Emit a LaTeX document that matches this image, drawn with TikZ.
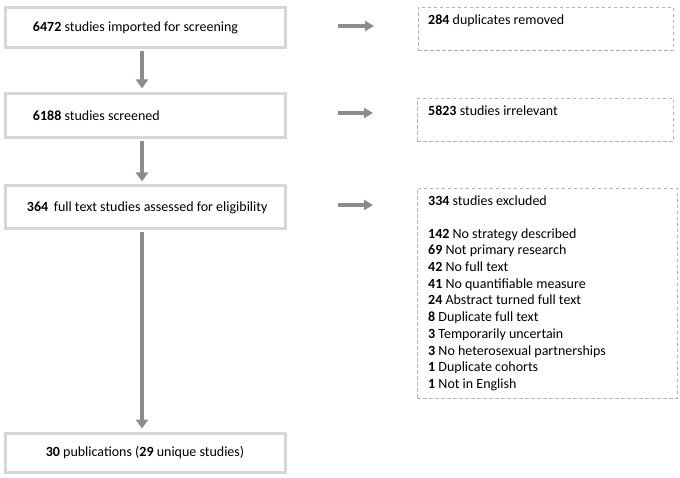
\documentclass[tikz,border=0pt]{standalone}
\usepackage{fontspec}
\setmainfont{Carlito}
\usetikzlibrary{arrows.meta}
\begin{document}
\begin{tikzpicture}[x=1pt,y=-1pt,
  mainbox/.style={draw=black!16, line width=3pt, fill=white, minimum width=280pt, inner sep=0pt, font=\fontsize{14}{16.7}\selectfont},
  sidebox/.style={draw=black!30, dash pattern=on 3.5pt off 2.5pt, line width=0.8pt, inner sep=0pt, anchor=north west},
  sidetext/.style={inner sep=0pt, anchor=base west, align=left, font=\fontsize{14}{16.7}\selectfont},
  arr/.style={draw=black!45, line width=3.5pt, -{Triangle[length=9pt,width=12pt]}},
  harr/.style={draw=black!45, line width=3.5pt, -{Triangle[length=9pt,width=10pt]}}
]
\useasboundingbox (0,0) rectangle (680,478);
% main boxes
\node[mainbox, minimum height=40pt] (b1) at (145,28) {\makebox[280pt][l]{\hspace{28pt}\textbf{6472} studies imported for screening}};
\node[mainbox, minimum height=44pt] (b2) at (145,116) {\makebox[280pt][l]{\hspace{28pt}\textbf{6188} studies screened}};
\node[mainbox, minimum height=43pt] (b3) at (145,207.5) {\makebox[280pt][l]{\hspace{22pt}\textbf{364} \,full text studies assessed for eligibility}};
\node[mainbox, minimum height=39pt] (b4) at (145,452.5) {\textbf{30} publications (\textbf{29} unique studies)};
% side boxes
\node[sidebox, minimum width=255pt, minimum height=43pt] (r1) at (418,7) {};
\node[sidebox, minimum width=256pt, minimum height=43pt] (r2) at (417,98) {};
\node[sidebox, minimum width=260pt, minimum height=210pt] (r3) at (417,188) {};
\node[sidetext] (t1) at (428,25) {\textbf{284} duplicates removed};
\node[sidetext] (t2) at (428,116) {\textbf{5823} studies irrelevant};
\node[sidetext, anchor=north west] (t3) at (428,196) {\textbf{334} studies excluded\\[15.5pt]
\textbf{142} No strategy described\\
\textbf{69} Not primary research\\
\textbf{42} No full text\\
\textbf{41} No quantifiable measure\\
\textbf{24} Abstract turned full text\\
\textbf{8} Duplicate full text\\
\textbf{3} Temporarily uncertain\\
\textbf{3} No heterosexual partnerships\\
\textbf{1} Duplicate cohorts\\
\textbf{1} Not in English};
% vertical arrows
\draw[arr, shorten <=1.5pt, shorten >=4pt] ([xshift=-3pt]b1.south) -- ([xshift=-3pt]b2.north);
\draw[arr, shorten <=1.5pt, shorten >=3pt] ([xshift=-3pt]b2.south) -- ([xshift=-3pt]b3.north);
\draw[arr, shorten <=1.5pt, shorten >=3pt] ([xshift=-3pt]b3.south) -- ([xshift=-3pt]b4.north);
% horizontal arrows
\draw[harr, shorten <=51pt, shorten >=44pt] ([yshift=2pt]b1.east) -- ([yshift=2pt]b1.east -| r1.west);
\draw[harr, shorten <=51pt, shorten >=44pt] ([yshift=3pt]b2.east) -- ([yshift=3pt]b2.east -| r2.west);
\draw[harr, shorten <=51pt, shorten >=44pt] ([yshift=2.5pt]b3.east) -- ([yshift=2.5pt]b3.east -| r3.west);
\end{tikzpicture}
\end{document}
